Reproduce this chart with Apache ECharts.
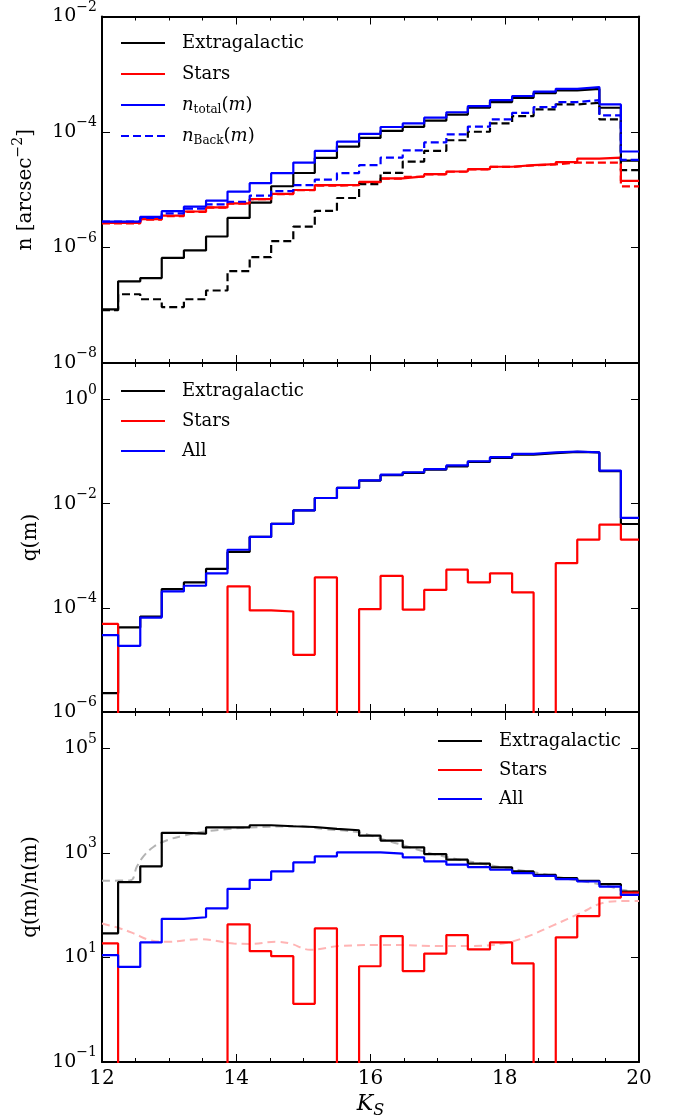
<!DOCTYPE html>
<html>
<head>
<meta charset="utf-8">
<script src="https://cdn.jsdelivr.net/npm/echarts@6/dist/echarts.min.js"></script>
<style>
html,body{margin:0;padding:0;background:#fff;}
#chart{width:675px;height:1120px;}
</style>
</head>
<body>
<div id="chart"></div>
<script>
// ---------- data ----------
// left edges of the magnitude bins, last entry is the right end of the last bin
const binEdges = [12.00, 12.24, 12.57, 12.89, 13.22, 13.55, 13.87, 14.20, 14.52, 14.85, 15.17, 15.50, 15.83,
                  16.15, 16.48, 16.80, 17.13, 17.45, 17.78, 18.11, 18.43, 18.76, 19.08, 19.41, 19.73, 20.00];

// panel 1: number densities n [arcsec^-2]
const nExtra     = [8.5e-8, 2.6e-7, 2.95e-7, 6.6e-7, 8.9e-7, 1.55e-6, 3.25e-6, 6.0e-6, 1.15e-5, 1.95e-5, 3.55e-5, 5.6e-5, 7.9e-5,
                    1.05e-4, 1.23e-4, 1.58e-4, 2.0e-4, 2.63e-4, 3.3e-4, 3.9e-4, 4.7e-4, 5.25e-4, 5.6e-4, 2.63e-4, 3.2e-5];
const nStars     = [2.66e-6, 2.66e-6, 3.1e-6, 3.55e-6, 4.2e-6, 4.95e-6, 5.8e-6, 6.9e-6, 8.5e-6, 9.9e-6, 1.2e-5, 1.22e-5, 1.37e-5,
                    1.57e-5, 1.7e-5, 1.86e-5, 2.07e-5, 2.27e-5, 2.5e-5, 2.66e-5, 2.77e-5, 3.0e-5, 3.47e-5, 3.6e-5, 1.43e-5];
const nTotal     = [2.8e-6, 2.8e-6, 3.4e-6, 4.25e-6, 5.1e-6, 6.5e-6, 9.3e-6, 1.3e-5, 1.94e-5, 2.96e-5, 4.7e-5, 6.8e-5, 9.3e-5,
                    1.22e-4, 1.41e-4, 1.77e-4, 2.2e-4, 2.8e-4, 3.56e-4, 4.2e-4, 5.0e-4, 5.6e-4, 6.0e-4, 3.0e-4, 4.6e-5];
const nBackExtra = [8.2e-8, 1.55e-7, 1.27e-7, 9.3e-8, 1.27e-7, 1.8e-7, 3.9e-7, 6.8e-7, 1.29e-6, 2.3e-6, 4.3e-6, 7.2e-6, 1.25e-5,
                    1.96e-5, 3.08e-5, 4.7e-5, 7.2e-5, 1.01e-4, 1.41e-4, 1.89e-4, 2.46e-4, 3.0e-4, 3.2e-4, 1.65e-4, 2.18e-5];
const nBackStars = [2.62e-6, 2.62e-6, 3.05e-6, 3.5e-6, 4.15e-6, 4.9e-6, 5.75e-6, 6.85e-6, 8.4e-6, 9.8e-6, 1.18e-5, 1.2e-5, 1.35e-5,
                    1.55e-5, 1.68e-5, 1.84e-5, 2.05e-5, 2.25e-5, 2.48e-5, 2.64e-5, 2.75e-5, 2.95e-5, 2.96e-5, 2.96e-5, 1.14e-5];
const nBackTotal = [2.8e-6, 2.8e-6, 3.25e-6, 3.9e-6, 4.7e-6, 5.6e-6, 6.2e-6, 7.9e-6, 9.5e-6, 1.2e-5, 1.5e-5, 1.94e-5, 2.66e-5,
                    3.6e-5, 4.8e-5, 6.6e-5, 9.1e-5, 1.24e-4, 1.65e-4, 2.15e-4, 2.7e-4, 3.3e-4, 3.56e-4, 1.94e-4, 3.3e-5];

// panel 2: q(m)
const qExtra = [2.3e-6, 4.2e-5, 6.8e-5, 2.29e-4, 3.07e-4, 5.6e-4, 1.18e-3, 2.29e-3, 4.1e-3, 7.4e-3, 1.28e-2, 2.0e-2, 2.77e-2,
                3.5e-2, 3.9e-2, 4.5e-2, 5.2e-2, 6.3e-2, 7.55e-2, 8.75e-2, 9.3e-2, 9.85e-2, 9.6e-2, 4.2e-2, 4.06e-3];
const qStars = [4.9e-5, 0, 0, 0, 0, 0, 2.57e-4, 8.9e-5, 8.5e-5, 1.25e-5, 3.83e-4, 0, 9.4e-5,
                4.1e-4, 9.2e-5, 2.2e-4, 5.4e-4, 3.07e-4, 4.6e-4, 1.97e-4, 0, 7.2e-4, 2.03e-3, 3.95e-3, 2.03e-3];
const qAll   = [3.0e-5, 1.86e-5, 6.5e-5, 2.06e-4, 2.65e-4, 4.6e-4, 1.3e-3, 2.29e-3, 4.1e-3, 7.4e-3, 1.28e-2, 2.0e-2, 2.8e-2,
                3.6e-2, 4.0e-2, 4.6e-2, 5.4e-2, 6.5e-2, 7.8e-2, 9.0e-2, 9.6e-2, 1.0e-1, 9.6e-2, 4.3e-2, 5.3e-3];

// panel 3: q(m)/n(m)
const rExtra = [29, 277, 555, 2430, 2350, 3100, 3100, 3400, 3250, 3150, 2890, 2730, 2150,
                1730, 1285, 955, 745, 624, 530, 444, 383, 330, 294, 253, 183];
const rStars = [18.6, 0, 0, 0, 0, 0, 43, 13.2, 10.6, 1.3, 36, 0, 6.8,
                25.7, 5.5, 11.9, 26.9, 14.3, 19.4, 7.7, 0, 24.3, 62, 140, 175];
const rAll   = [11.1, 6.6, 19.4, 55, 59, 87.5, 206, 307, 444, 660, 863, 1030, 1030,
                970, 826, 692, 597, 538, 478, 412, 366, 316, 285, 228, 158];

// smooth model curves in panel 3 (dashed)
const modelExtraK = [12.00, 12.42, 12.52, 12.62, 12.77, 12.96, 13.21, 13.46, 13.81, 14.21, 14.95, 15.30, 15.80, 16.04,
                     16.29, 16.54, 16.79, 17.04, 17.29, 17.55, 17.98, 18.48, 18.97, 19.47, 19.77, 20.00];
const modelExtra  = [295, 300, 550, 870, 1320, 1740, 2140, 2510, 2820, 3090, 3240, 2880, 2510, 2090,
                     1660, 1350, 1070, 890, 760, 660, 525, 417, 316, 245, 195, 182];
const modelStarsK = [12.00, 12.27, 12.47, 12.72, 12.97, 13.46, 13.96, 14.21, 14.60, 14.80, 15.10, 15.55, 16.29, 17.04,
                     17.50, 17.98, 18.33, 18.73, 19.13, 19.47, 19.72, 20.00];
const modelStars  = [44.7, 36, 29, 21.4, 20, 22.4, 18.6, 18.2, 20, 18.6, 14.1, 16.6, 17.4, 16.6,
                     16.6, 18.6, 25, 41.7, 71, 112, 120, 120];

// axis ticks
const xTicks  = [12, 14, 16, 18, 20];
const yTicks1 = [1e-8, 1e-6, 1e-4, 1e-2];
const yTicks2 = [1e-6, 1e-4, 1e-2, 1];
const yTicks3 = [1e-1, 1e1, 1e3, 1e5];

// ---------- helpers ----------
const FONT = 'DejaVu Serif';
const TXT = '#000';
const ZERO_FLOOR = 1e-30; // zero counts drop below the log axis

function stepData(vals) {
  const pts = vals.map((v, i) => [binEdges[i], v > 0 ? v : ZERO_FLOOR]);
  const last = vals[vals.length - 1];
  pts.push([binEdges[binEdges.length - 1], last > 0 ? last : ZERO_FLOOR]);
  return pts;
}
function sciLabel(v) {
  const e = Math.round(Math.log10(v));
  return '{b|10}{s|' + (e < 0 ? '\u2212' : '') + Math.abs(e) + '}';
}
const tickRich = {
  b: {fontFamily: FONT, fontSize: 19, lineHeight: 19, color: TXT},
  s: {fontFamily: FONT, fontSize: 14, lineHeight: 14, color: TXT, padding: [0, 0, 19, 0]}
};
const nameRich = {
  r: {fontFamily: FONT, fontSize: 20, lineHeight: 20, color: TXT},
  s: {fontFamily: FONT, fontSize: 14, lineHeight: 14, color: TXT, padding: [0, 0, 16, 0]}
};
const legendRich = {
  g: {width: 12, fontSize: 10, lineHeight: 26},
  t: {fontFamily: FONT, fontSize: 18, lineHeight: 26, color: TXT},
  i: {fontFamily: FONT, fontSize: 18, lineHeight: 26, color: TXT, fontStyle: 'italic'},
  sub: {fontFamily: FONT, fontSize: 12, lineHeight: 12, color: TXT, padding: [10, 0, 0, 0]}
};
const legendNames = {
  'Extragalactic': '{g| }{t|Extragalactic}',
  'Stars': '{g| }{t|Stars}',
  'All': '{g| }{t|All}',
  'ntotal': '{g| }{i|n}{sub|total}{t|(}{i|m}{t|)}',
  'nback': '{g| }{i|n}{sub|Back}{t|(}{i|m}{t|)}'
};

const frame = {color: '#000', width: 2};
function xAxes(gridIndex, withLabels) {
  const base = {
    type: 'value', gridIndex: gridIndex, min: 12, max: 20, interval: 2,
    axisLine: {show: true, onZero: false, lineStyle: frame},
    axisTick: {show: true, inside: true, length: 8, lineStyle: {color: '#000', width: 1}},
    minorTick: {show: true, splitNumber: 4, length: 4, lineStyle: {color: '#000', width: 1}},
    splitLine: {show: false}, minorSplitLine: {show: false}
  };
  const bottom = Object.assign({}, base, {
    position: 'bottom',
    axisLabel: {show: withLabels, margin: 7, fontFamily: FONT, fontSize: 20, color: TXT,
                customValues: xTicks}
  });
  if (withLabels) {
    Object.assign(bottom, {
      name: '{k|K}{s|S}', nameLocation: 'middle', nameGap: 28,
      nameTextStyle: {rich: {
        k: {fontFamily: FONT, fontSize: 22, lineHeight: 26, fontStyle: 'italic', color: TXT},
        s: {fontFamily: FONT, fontSize: 16, lineHeight: 16, fontStyle: 'italic', color: TXT, padding: [13, 0, 0, 0]}
      }}
    });
  }
  const top = Object.assign({}, base, {position: 'top', axisLabel: {show: false}});
  return [bottom, top];
}
function yAxes(gridIndex, min, max, ticks, name, gap) {
  const base = {
    type: 'log', logBase: 10, gridIndex: gridIndex, min: min, max: max,
    axisLine: {show: true, onZero: false, lineStyle: frame},
    axisTick: {show: true, inside: true, length: 8, customValues: ticks, lineStyle: {color: '#000', width: 1}},
    minorTick: {show: false}, splitLine: {show: false}, minorSplitLine: {show: false}
  };
  const left = Object.assign({}, base, {
    position: 'left',
    axisLabel: {show: true, customValues: ticks, formatter: sciLabel, margin: 5, rich: tickRich},
    name: name, nameLocation: 'middle', nameGap: gap, nameRotate: 90,
    nameTextStyle: {rich: nameRich}
  });
  const right = Object.assign({}, base, {position: 'right', axisLabel: {show: false}});
  return [left, right];
}

function stepSeries(name, vals, color, xi, yi, dashed) {
  return {
    name: name, type: 'line', step: 'end', xAxisIndex: xi, yAxisIndex: yi,
    data: stepData(vals), symbol: 'none', showSymbol: false, clip: true, animation: false,
    lineStyle: {color: color, width: 2.2, type: dashed ? [8, 4] : 'solid'},
    itemStyle: {color: color}
  };
}
function curveSeries(name, ks, vals, color, xi, yi) {
  return {
    name: name, type: 'line', smooth: 0.4, xAxisIndex: xi, yAxisIndex: yi,
    data: ks.map((k, i) => [k, vals[i]]), symbol: 'none', showSymbol: false, clip: true, animation: false,
    lineStyle: {color: color, width: 2, type: [8, 5]}, itemStyle: {color: color}
  };
}
function legend(left, top, gap, names) {
  return {
    show: true, orient: 'vertical', left: left, top: top, padding: 0, itemGap: gap,
    itemWidth: 44, itemHeight: 14, selectedMode: false,
    itemStyle: {opacity: 0, borderWidth: 0},
    data: names,
    formatter: n => legendNames[n],
    textStyle: {fontFamily: FONT, fontSize: 18, lineHeight: 26, color: TXT, rich: legendRich}
  };
}

const RED = '#ff0000', BLUE = '#0000ff', BLACK = '#000000';

const option = {
  backgroundColor: '#ffffff',
  animation: false,
  grid: [
    {left: 102, top: 15, width: 537, height: 348, containLabel: false},
    {left: 102, top: 363, width: 537, height: 349, containLabel: false},
    {left: 102, top: 712, width: 537, height: 350, containLabel: false}
  ],
  xAxis: [].concat(xAxes(0, false), xAxes(1, false), xAxes(2, true)),
  yAxis: [].concat(
    yAxes(0, 1e-8, 1e-2, yTicks1, '{r|n [arcsec}{s|\u22122}{r|]}', 58),
    yAxes(1, 1e-6, 5, yTicks2, '{r|q(m)}', 60),
    yAxes(2, 1e-1, 5e5, yTicks3, '{r|q(m)/n(m)}', 60)
  ),
  legend: [
    legend(120, 30, 5, ['Extragalactic', 'Stars', 'ntotal', 'nback']),
    legend(120, 378, 4, ['Extragalactic', 'Stars', 'All']),
    legend(437, 728, 3, ['Extragalactic', 'Stars', 'All'])
  ],
  series: [
    // panel 1
    stepSeries('Extragalactic', nExtra, BLACK, 0, 0, false),
    stepSeries('Stars', nStars, RED, 0, 0, false),
    stepSeries('ntotal', nTotal, BLUE, 0, 0, false),
    stepSeries('Extragalactic back', nBackExtra, BLACK, 0, 0, true),
    stepSeries('Stars back', nBackStars, RED, 0, 0, true),
    stepSeries('nback', nBackTotal, BLUE, 0, 0, true),
    // panel 2
    stepSeries('Extragalactic', qExtra, BLACK, 2, 2, false),
    stepSeries('Stars', qStars, RED, 2, 2, false),
    stepSeries('All', qAll, BLUE, 2, 2, false),
    // panel 3
    curveSeries('Extragalactic model', modelExtraK, modelExtra, '#b4b4b4', 4, 4),
    curveSeries('Stars model', modelStarsK, modelStars, '#ffb4b4', 4, 4),
    stepSeries('Extragalactic', rExtra, BLACK, 4, 4, false),
    stepSeries('Stars', rStars, RED, 4, 4, false),
    stepSeries('All', rAll, BLUE, 4, 4, false)
  ]
};

const chart = echarts.init(document.getElementById('chart'), null, {renderer: 'canvas'});
chart.setOption(option);
</script>
</body>
</html>
